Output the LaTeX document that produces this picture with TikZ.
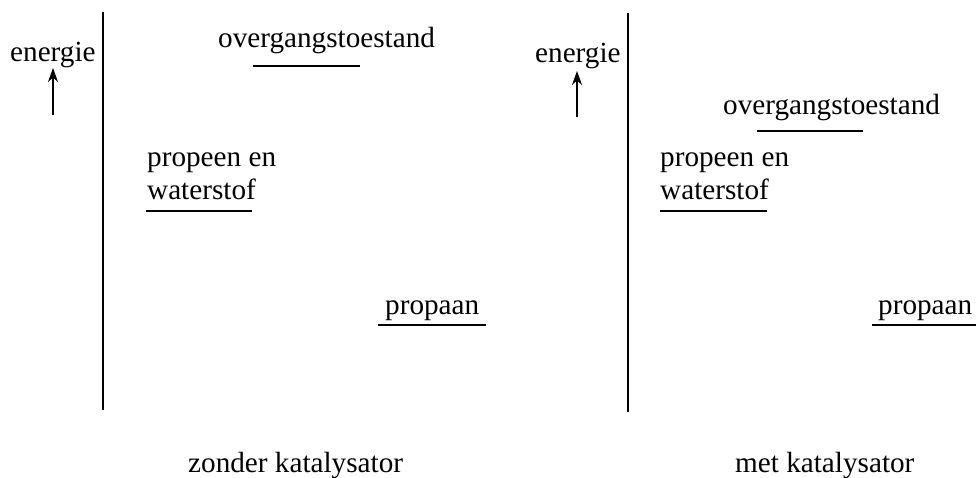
\documentclass[tikz,border=0pt]{standalone}
\usepackage{fontspec}
\setmainfont{Liberation Serif}
\usetikzlibrary{arrows.meta}
\begin{document}
\begin{tikzpicture}[x=1pt,y=-1pt,
  lbl/.style={inner sep=0pt,anchor=base west,font=\fontsize{29.2}{33}\selectfont},
  axisline/.style={line width=2.2pt},
  level/.style={line width=2pt},
  uparrow/.style={line width=2pt,-{Stealth[length=14pt,width=10pt]}}]
\useasboundingbox (0,0) rectangle (976,478);
% left panel
\coordinate (La1) at (103,12);
\coordinate (La2) at (103,410);
\draw[axisline] (La1) -- (La2);
\node[lbl] (Len) at (10,62) {energie};
\coordinate (Lar1) at (53,115);
\coordinate (Lar2) at (53,68);
\draw[uparrow] (Lar1) -- (Lar2);
\node[lbl] (Lov) at (218,48) {overgangstoestand};
\coordinate (Lov1) at (253,66);
\coordinate (Lov2) at (360,66);
\draw[level] (Lov1) -- (Lov2);
\node[lbl] (Lpr1) at (147,167) {propeen en};
\node[lbl] (Lpr2) at (147,200) {waterstof};
\coordinate (Lw1) at (146,211);
\coordinate (Lw2) at (252,211);
\draw[level] (Lw1) -- (Lw2);
\node[lbl] (Lpa) at (385,314) {propaan};
\coordinate (Lp1) at (378,325);
\coordinate (Lp2) at (486,325);
\draw[level] (Lp1) -- (Lp2);
\node[lbl] (Lcap) at (188,472) {zonder katalysator};
% right panel
\coordinate (Ra1) at (628,13);
\coordinate (Ra2) at (628,412);
\draw[axisline] (Ra1) -- (Ra2);
\node[lbl] (Ren) at (535,63) {energie};
\coordinate (Rar1) at (577,117);
\coordinate (Rar2) at (577,71);
\draw[uparrow] (Rar1) -- (Rar2);
\node[lbl] (Rov) at (723,115) {overgangstoestand};
\coordinate (Rov1) at (757,131);
\coordinate (Rov2) at (863,131);
\draw[level] (Rov1) -- (Rov2);
\node[lbl] (Rpr1) at (660,167) {propeen en};
\node[lbl] (Rpr2) at (660,200) {waterstof};
\coordinate (Rw1) at (660,211);
\coordinate (Rw2) at (767,211);
\draw[level] (Rw1) -- (Rw2);
\node[lbl] (Rpa) at (878,314) {propaan};
\coordinate (Rp1) at (872,325);
\coordinate (Rp2) at (976,325);
\draw[level] (Rp1) -- (Rp2);
\node[lbl] (Rcap) at (735,472) {met katalysator};
\end{tikzpicture}
\end{document}
